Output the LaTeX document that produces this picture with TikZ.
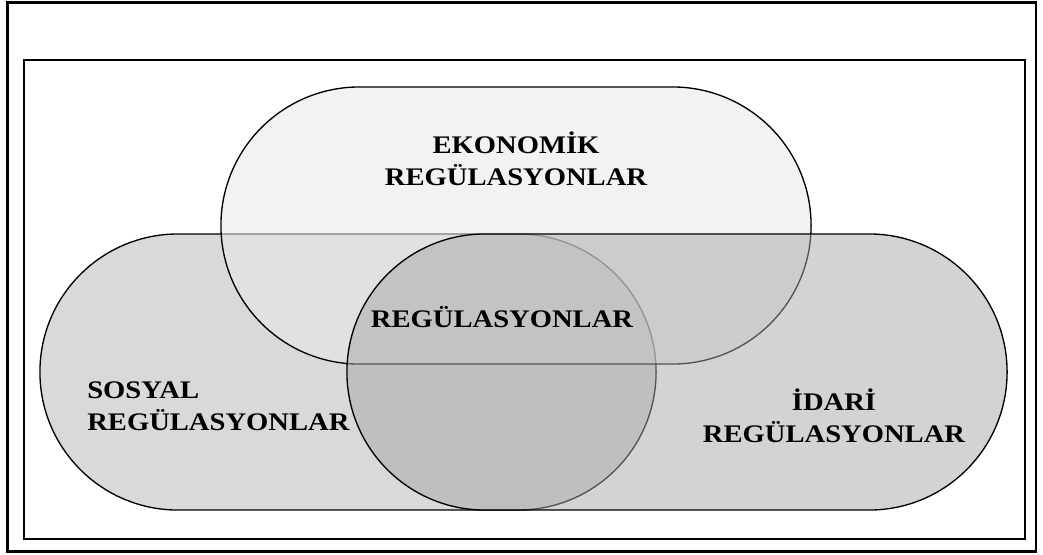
\documentclass[tikz,border=0pt]{standalone}
\usepackage{fontspec}
\setmainfont{Liberation Serif}[FakeStretch=1.13]
\usetikzlibrary{shapes.misc}

\definecolor{sosyalgray}{RGB}{217,217,217}
\definecolor{ekonomikgray}{RGB}{232,232,232}
\definecolor{idarigray}{RGB}{167,167,167}

\tikzset{
	regshape/.style={rounded rectangle, draw=black, line width=0.95pt, inner sep=0pt, outer sep=0pt},
	reglabel/.style={font=\fontsize{18}{22.7}\selectfont\bfseries, inner sep=0pt}
}

\begin{document}
\begin{tikzpicture}[x=0.025cm,y=-0.025cm]
	\useasboundingbox (0,0) rectangle (1043,554);
	\draw [line width=2pt] (7.5,2.5) rectangle (1036,551.5);
	\draw [line width=1.8pt] (24,60) rectangle (1025,539);

	\node at (348,372) [regshape, fill=sosyalgray, minimum width=15.4cm, minimum height=6.9cm] (sosyal) {};
	\node at (516,225.5) [regshape, fill=ekonomikgray, fill opacity=0.55, minimum width=14.75cm, minimum height=6.925cm] (ekonomik) {};
	\node at (677,372) [regshape, fill=idarigray, fill opacity=0.5, minimum width=16.5cm, minimum height=6.9cm] (idari) {};

	\node at (516,159) [reglabel, align=center] (ekonomiklbl) {EKONOMİK\\REGÜLASYONLAR};
	\node at (502,317) [reglabel] (ortaklbl) {REGÜLASYONLAR};
	\node at (87,406) [reglabel, anchor=west, align=left] (sosyallbl) {SOSYAL\\REGÜLASYONLAR};
	\node at (834,416) [reglabel, align=center] (idarilbl) {İDARİ\\REGÜLASYONLAR};
\end{tikzpicture}
\end{document}
